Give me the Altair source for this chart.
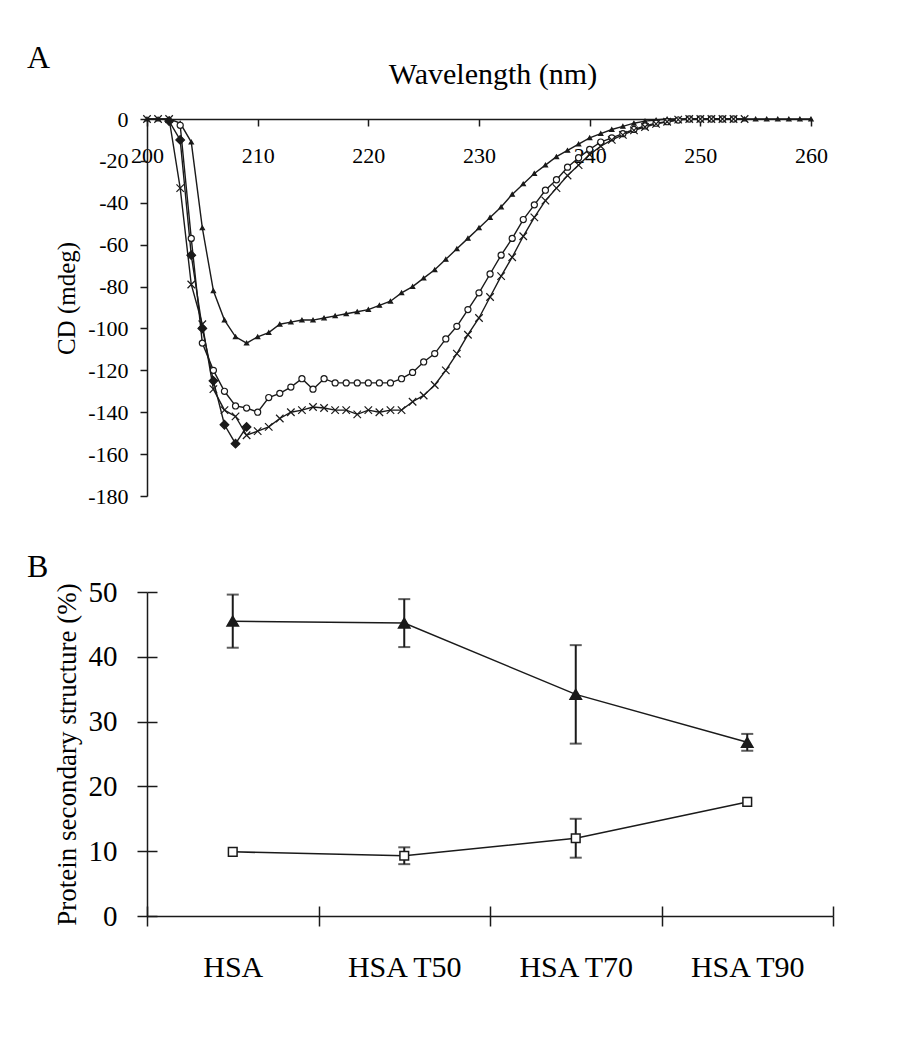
import altair as alt
import pandas as pd

FONT = "Liberation Serif"
INK = "#1a1a1a"

# ---------------- Panel A: CD spectra ----------------
wavelength = list(range(200, 261))

cd_triangle = [0, 0, 0, -2, -11, -52, -82, -96, -104, -107,
               -104, -102, -98, -97, -96, -96, -95, -94, -93, -92,
               -91, -89, -87, -83, -80, -76, -72, -67, -62, -57,
               -52, -47, -42, -36, -31, -26, -22, -18, -15, -12,
               -9, -7, -5, -3.5, -2, -1, -0.5, 0, 0, 0,
               0, 0, 0, 0, 0, 0, 0, 0, 0, 0,
               0]

cd_circle = [None, None, None, -3, -57, -107, -120, -130, -137, -138,
             -140, -133, -131, -128, -124, -129, -124, -126, -126, -126,
             -126, -126, -126, -124, -121, -116, -112, -105, -99, -91,
             -83, -74, -65, -57, -48, -41, -34, -29, -23, -18.5,
             -14.5, -11, -9, -7, -5, -3.3, -2, -1.3, -0.5, 0,
             0, 0, 0, 0, None, None, None, None, None, None,
             None]

cd_cross = [0, 0, 0, -33, -79, -98, -129, -139, -142, -151,
            -149, -147, -143, -140, -139, -137.5, -138, -139, -139, -141,
            -139, -140, -139, -139, -135, -132, -127, -120, -112, -103,
            -95, -85, -75, -66, -56, -47, -39, -33, -27, -22,
            -17, -13, -10, -7.6, -5.4, -3.8, -2.3, -1.3, -0.3, 0,
            0, 0, 0, 0, 0, None, None, None, None, None,
            None]

cd_diamond = [None, None, -1, -10, -65, -100, -125, -146, -155, -147,
              None, None, None, None, None, None, None, None, None, None,
              None, None, None, None, None, None, None, None, None, None,
              None, None, None, None, None, None, None, None, None, None,
              None, None, None, None, None, None, None, None, None, None,
              None, None, None, None, None, None, None, None, None, None,
              None]

series_names = ["triangle", "circle", "cross", "diamond"]

rows = []
for name, vals in zip(series_names, [cd_triangle, cd_circle, cd_cross, cd_diamond]):
    for w, v in zip(wavelength, vals):
        if v is not None:
            rows.append({"wl": w, "cd": v, "series": name})
dfA = pd.DataFrame(rows)

# ---------------- Panel B: secondary structure ----------------
categories = ["HSA", "HSA T50", "HSA T70", "HSA T90"]
helix = [45.5, 45.2, 34.2, 26.8]
helix_err = [4.1, 3.7, 7.6, 1.3]
sheet = [9.9, 9.3, 12.0, 17.6]
sheet_err = [0.0, 1.3, 3.0, 0.0]

rowsB = []
for c, v, e in zip(categories, helix, helix_err):
    rowsB.append({"cat": c, "kind": "helix", "val": v, "err": e})
for c, v, e in zip(categories, sheet, sheet_err):
    rowsB.append({"cat": c, "kind": "sheet", "val": v, "err": e})
dfB = pd.DataFrame(rowsB)

CROSS_PATH = "M-1,-1L1,1M-1,1L1,-1"

WA, HA = 664, 377
WB, HB = 686, 324

axis_common = dict(domainColor=INK, tickColor=INK, labelColor="black",
                   titleColor="black", labelFont=FONT, titleFont=FONT,
                   grid=False, domainWidth=1.5, tickWidth=1.5,
                   titleFontWeight="normal", labelFlush=False)

xA = alt.X("wl:Q", scale=alt.Scale(domain=[200, 260], nice=False, zero=False),
           axis=alt.Axis(orient="bottom", offset=-HA, values=list(range(200, 261, 10)),
                         tickSize=7, labelPadding=19, labelFontSize=22, title=None,
                         labelOverlap=False, **axis_common))
yA = alt.Y("cd:Q", scale=alt.Scale(domain=[-180, 0], nice=False),
           axis=alt.Axis(orient="left", values=list(range(-180, 1, 20)), tickSize=7,
                         labelPadding=12, labelFontSize=22, labelExpr="'' + datum.value",
                         title="CD (mdeg)", titleFontSize=25, titleX=-73, titleY=179,
                         titleBaseline="alphabetic", titleAngle=270, titleAlign="center",
                         labelOverlap=False, **axis_common))

baseA = alt.Chart(dfA)
lineA = baseA.mark_line(color=INK, strokeWidth=1.4).encode(
    x=xA, y=yA, detail="series:N", order="wl:Q")
pointA = baseA.mark_point(filled=True, stroke=INK, strokeWidth=1.2, opacity=1).encode(
    x=alt.X("wl:Q", axis=None), y=alt.Y("cd:Q", axis=None),
    shape=alt.Shape("series:N", scale=alt.Scale(domain=series_names,
                    range=["triangle-up", "circle", CROSS_PATH, "diamond"]), legend=None),
    fill=alt.Fill("series:N", scale=alt.Scale(domain=series_names,
                  range=[INK, "white", "transparent", INK]), legend=None),
    size=alt.Size("series:N", scale=alt.Scale(domain=series_names,
                  range=[18, 75, 85, 70]), legend=None),
)
labelA = alt.Chart(pd.DataFrame({"t": ["A"]})).mark_text(
    align="left", baseline="alphabetic", fontSize=32, font=FONT, color="black").encode(
    x=alt.value(-120), y=alt.value(-51), text="t:N")
titleA = alt.Chart(pd.DataFrame({"t": ["Wavelength (nm)"]})).mark_text(
    align="center", baseline="alphabetic", fontSize=30, font=FONT, color="black").encode(
    x=alt.value(WA / 2 + 14), y=alt.value(-35), text="t:N")

chartA = alt.layer(lineA, pointA, labelA, titleA).resolve_axis(
    x="independent", y="independent").properties(width=WA, height=HA)

# Panel B
xScaleB = alt.Scale(domain=categories, paddingInner=0, paddingOuter=0)
xB = alt.X("cat:N", sort=categories, scale=xScaleB,
           axis=alt.Axis(orient="bottom", tickBand="extent", labelAngle=0, tickSize=10,
                         labelPadding=26, labelFontSize=30, title=None, **axis_common))
yB = alt.Y("val:Q", scale=alt.Scale(domain=[0, 50], nice=False),
           axis=alt.Axis(orient="left", values=[0, 10, 20, 30, 40, 50], tickSize=10,
                         labelPadding=20, labelFontSize=29,
                         title="Protein secondary structure (%)", titleFontSize=27,
                         titleX=-72, titleY=HB / 2, titleBaseline="alphabetic",
                         titleAngle=270, titleAlign="center", **axis_common))
xBn = alt.X("cat:N", sort=categories, scale=xScaleB, axis=None)

baseB = alt.Chart(dfB).transform_calculate(lo="datum.val - datum.err",
                                           hi="datum.val + datum.err")
lineB = baseB.mark_line(color=INK, strokeWidth=1.5).encode(x=xB, y=yB, detail="kind:N")
ruleB = baseB.transform_filter("datum.err > 0").mark_rule(color=INK, strokeWidth=2).encode(
    x=xBn, y=alt.Y("lo:Q", axis=None), y2="hi:Q")
capLo = baseB.transform_filter("datum.err > 0").mark_tick(color=INK, thickness=2, size=12).encode(
    x=xBn, y=alt.Y("lo:Q", axis=None))
capHi = baseB.transform_filter("datum.err > 0").mark_tick(color=INK, thickness=2, size=12).encode(
    x=xBn, y=alt.Y("hi:Q", axis=None))
pointB = baseB.mark_point(filled=True, stroke=INK, strokeWidth=1.5, opacity=1).encode(
    x=xBn, y=alt.Y("val:Q", axis=None),
    shape=alt.Shape("kind:N", scale=alt.Scale(domain=["helix", "sheet"],
                    range=["triangle-up", "square"]), legend=None),
    fill=alt.Fill("kind:N", scale=alt.Scale(domain=["helix", "sheet"],
                  range=[INK, "white"]), legend=None),
    size=alt.Size("kind:N", scale=alt.Scale(domain=["helix", "sheet"],
                  range=[130, 75]), legend=None),
)
innerTicks = baseB.mark_point(opacity=0).encode(
    x=alt.X("cat:N", sort=categories, scale=xScaleB,
            axis=alt.Axis(orient="bottom", offset=-10, tickBand="extent", labels=False,
                          domain=False, tickSize=10, title=None, tickColor=INK,
                          tickWidth=1.5, grid=False)),
    y=alt.Y("val:Q", axis=alt.Axis(orient="left", offset=-10, values=[0, 10, 20, 30, 40, 50],
                                   labels=False, domain=False, tickSize=10, title=None,
                                   tickColor=INK, tickWidth=1.5, grid=False)),
)
labelB = alt.Chart(pd.DataFrame({"t": ["B"]})).mark_text(
    align="left", baseline="alphabetic", fontSize=32, font=FONT, color="black").encode(
    x=alt.value(-120), y=alt.value(-15), text="t:N")

chartB = alt.layer(lineB, ruleB, capLo, capHi, pointB, innerTicks, labelB).resolve_axis(
    x="independent", y="independent").properties(width=WB, height=HB)

chart = alt.vconcat(chartA, chartB, spacing=44).resolve_scale(
    shape="independent", fill="independent", size="independent").properties(
    padding={"left": 19, "top": 34, "right": 5, "bottom": 5},
    background="white",
).configure_view(stroke=None)

chart.save("out.html", embed_options={"renderer": "svg", "actions": False})
